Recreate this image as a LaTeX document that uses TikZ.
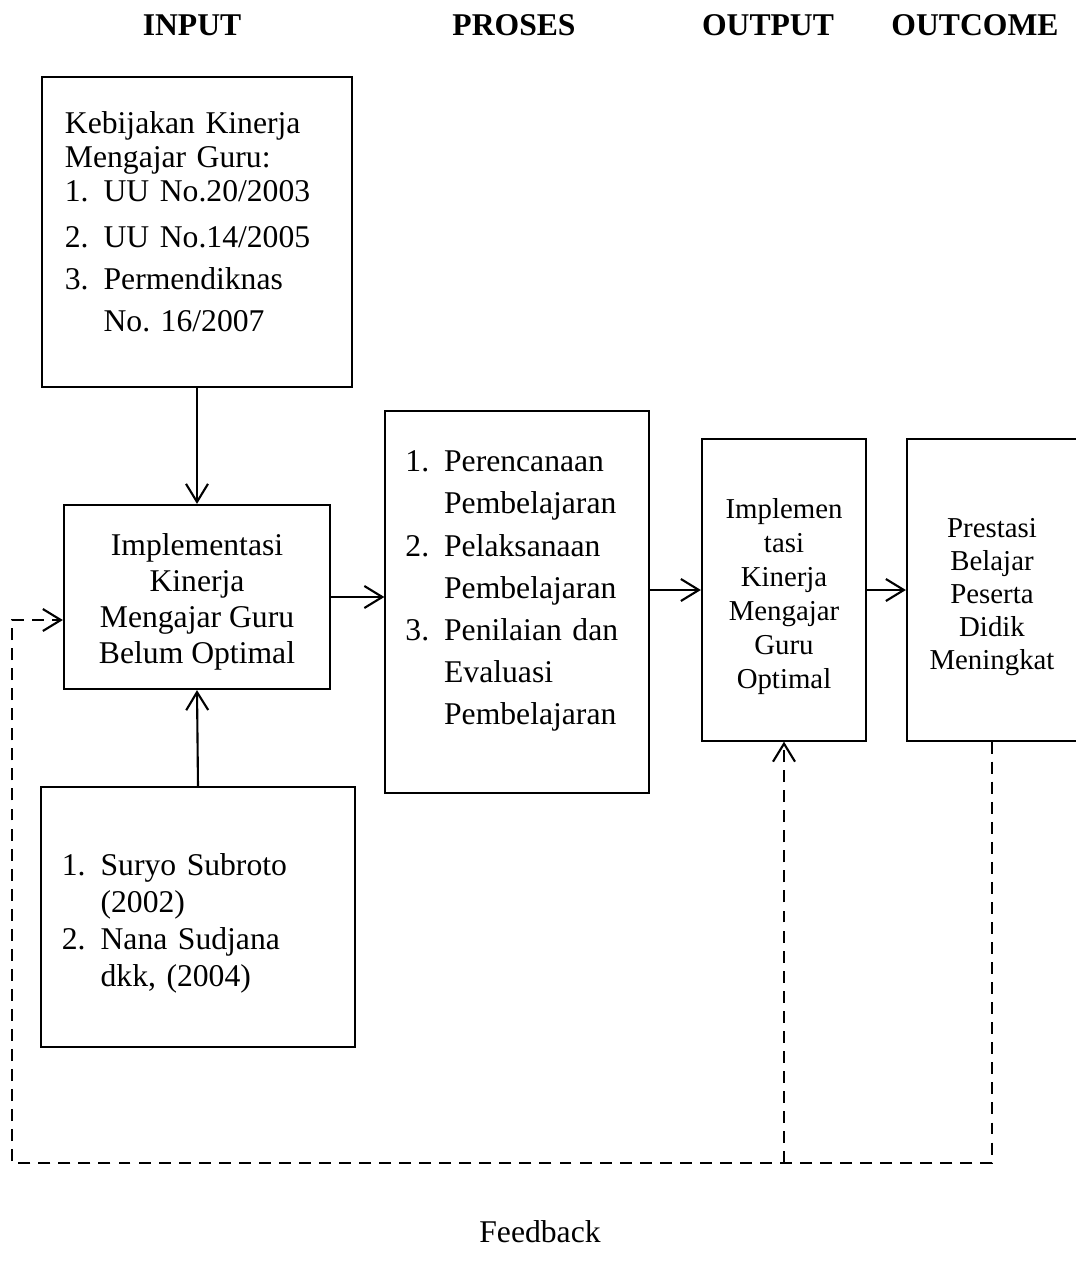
\documentclass[tikz,border=0pt]{standalone}
\usepackage{fontspec}
\setmainfont{Liberation Serif}
\usetikzlibrary{arrows.meta,positioning}
\newcommand\numlbl[1]{\makebox[11pt][l]{#1}}
\newcommand\numgap{\hspace*{11pt}}
\frenchspacing

\begin{document}
\begin{tikzpicture}[x=0.01cm, y=-0.01cm, line width=0.6pt,
    box/.style  = {rectangle, draw, inner sep=0, align=center, font=\fontsize{9}{12}\selectfont},
    head/.style = {font=\fontsize{9}{11}\selectfont\bfseries},
    arr/.style  = {-{Straight Barb[length=1.8mm,width=2.2mm]}},
    fb/.style   = {arr, dash pattern=on 3.4pt off 2.3pt}]
    \useasboundingbox (0,0) rectangle (1075,1276);

    % column headings
    \node[head] (hin)  at (192,25) {INPUT};
    \node[head] (hpro) at (514,25) {PROSES};
    \node[head] (hout) at (768,25) {OUTPUT};
    \node[head] (hoc)  at (975,25) {OUTCOME};

    % boxes
    \node[box, minimum width=3.10cm, minimum height=3.10cm, text width=2.64cm, align=left,
          font=\fontsize{9}{9.7}\selectfont] (policy) at (197,232) {
      Kebijakan Kinerja\\
      Mengajar Guru:\\
      \numlbl{1.}UU No.20/2003\\[3.4pt]
      \numlbl{2.}UU No.14/2005\\[2.3pt]
      \numlbl{3.}Permendiknas\\[2.3pt]
      \numgap No. 16/2007\rule[-6pt]{0pt}{0pt}
    };

    \node[box, minimum width=2.66cm, minimum height=1.84cm,
          font=\fontsize{9}{10.2}\selectfont] (impl) at (197,597) {
      \rule{0pt}{9pt}Implementasi\\ Kinerja\\ Mengajar Guru\\ Belum Optimal
    };

    \node[box, minimum width=3.14cm, minimum height=2.59cm, text width=2.72cm, align=left,
          font=\fontsize{9}{10.5}\selectfont] (theory) at (198,917) {
      \numlbl{1.}Suryo Subroto\rule{0pt}{10pt}\\
      \numgap(2002)\\
      \numlbl{2.}Nana Sudjana\\
      \numgap dkk, (2004)
    };

    \node[box, minimum width=2.63cm, minimum height=3.82cm, text width=2.23cm, align=left] (proc) at (517,602) {
      \numlbl{1.}Perencanaan\\
      \numgap Pembelajaran\\
      \numlbl{2.}Pelaksanaan\\
      \numgap Pembelajaran\\
      \numlbl{3.}Penilaian dan\\
      \numgap Evaluasi\\
      \numgap Pembelajaran\rule[-8pt]{0pt}{0pt}
    };

    \node[box, minimum width=1.64cm, minimum height=3.01cm,
          font=\fontsize{8.2}{9.7}\selectfont] (outp) at (784,590) {
      \rule{0pt}{9.5pt}Implemen\\ tasi\\ Kinerja\\ Mengajar\\ Guru\\ Optimal
    };

    \node[box, minimum width=1.70cm, minimum height=3.01cm,
          font=\fontsize{8.2}{9.4}\selectfont] (outc) at (992,590) {
      \rule{0pt}{9.5pt}Prestasi\\ Belajar\\ Peserta\\ Didik\\ Meningkat
    };

    % main flow
    \draw[arr] (policy.south) -- (impl.north);
    \draw[arr] (theory.north) -- (impl.south);
    \draw[arr] (impl.east) -- (impl.east -| proc.west);
    \draw[arr] (outp.west -| proc.east) -- (outp.west);
    \draw[arr] (outp.east) -- (outc.west);

    % feedback loop
    \coordinate (fbL)  at (12,1163);
    \coordinate (fbin) at ([yshift=-0.23cm]impl.west);
    \draw[fb] (outc.south) |- (fbL) |- (fbin);
    \draw[fb] (outp.south |- fbL) -- (outp.south);

    \node[font=\fontsize{9}{11}\selectfont] (fbtext) at (540,1232) {Feedback};
\end{tikzpicture}
\end{document}
